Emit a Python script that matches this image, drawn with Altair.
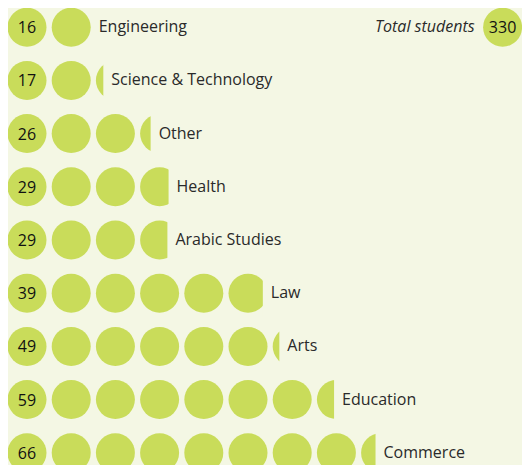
import math
import altair as alt
import pandas as pd

# ---- data ----
categories = ["Engineering", "Science & Technology", "Other", "Health",
              "Arabic Studies", "Law", "Arts", "Education", "Commerce"]
counts = [16, 17, 26, 29, 29, 39, 49, 59, 66]
# length of each row in circles (the first circle holds the number)
circle_units = [2.0, 2.19, 3.27, 3.73, 3.70, 5.88, 6.17, 7.44, 8.37]
total_label = "Total students"
total_value = 330

# ---- styling ----
BG = "#f4f7e4"
GREEN = "#c9dc5a"
TEXT = "#2a2a2a"
FONT = "Open Sans"

W, H = 514, 457
PX_X = 44.2          # px per circle step
PX_Y = 53.2          # px per row
R = 19.5             # circle radius px
x0 = -19.0 / PX_X
x1 = x0 + W / PX_X
y0 = -19.2 / PX_Y
y1 = y0 + H / PX_Y
rx = R / PX_X
TOTAL_POS = 10.76    # circle-step position of the total badge

circ_rows, mask_rows, num_rows, lab_rows = [], [], [], []
for i, (cat, n, c) in enumerate(zip(categories, counts, circle_units)):
    full = int(math.floor(c + 1e-9))
    frac = c - full
    for k in range(full):
        circ_rows.append({"x": k, "row": i})
    if frac > 0.005:
        circ_rows.append({"x": full, "row": i})
        clip = full - rx + frac * 2 * rx
        mask_rows.append({"x": clip, "x2": full + 0.5,
                          "y": i - 0.45, "y2": i + 0.45})
        end = clip
    else:
        end = full - 1 + rx
    num_rows.append({"x": 0, "row": i, "t": str(n)})
    lab_rows.append({"x": end, "row": i, "t": cat})

xs = alt.Scale(domain=[x0, x1], nice=False, zero=False)
ys = alt.Scale(domain=[y0, y1], nice=False, zero=False, reverse=True)

circ_df = pd.DataFrame(circ_rows)
mask_df = pd.DataFrame(mask_rows)
num_df = pd.DataFrame(num_rows)
lab_df = pd.DataFrame(lab_rows)
tot_df = pd.DataFrame([{"x": TOTAL_POS, "row": 0, "t": str(total_value), "l": total_label}])

SIZE = (2 * R) ** 2

circles = alt.Chart(circ_df).mark_circle(size=SIZE, color=GREEN, opacity=1).encode(
    x=alt.X("x:Q", scale=xs, axis=None),
    y=alt.Y("row:Q", scale=ys, axis=None),
)
masks = alt.Chart(mask_df).mark_rect(color=BG).encode(
    x=alt.X("x:Q", scale=xs, axis=None), x2="x2:Q",
    y=alt.Y("y:Q", scale=ys, axis=None), y2="y2:Q",
)
nums = alt.Chart(num_df).mark_text(font=FONT, fontSize=16, color="#111111",
                                   align="center", baseline="middle", dy=1).encode(
    x=alt.X("x:Q", scale=xs, axis=None),
    y=alt.Y("row:Q", scale=ys, axis=None),
    text="t:N",
)
labels = alt.Chart(lab_df).mark_text(font=FONT, fontSize=16, color=TEXT,
                                     align="left", baseline="middle", dx=8).encode(
    x=alt.X("x:Q", scale=xs, axis=None),
    y=alt.Y("row:Q", scale=ys, axis=None),
    text="t:N",
)
tot_circle = alt.Chart(tot_df).mark_circle(size=SIZE, color=GREEN, opacity=1).encode(
    x=alt.X("x:Q", scale=xs, axis=None),
    y=alt.Y("row:Q", scale=ys, axis=None),
)
tot_num = alt.Chart(tot_df).mark_text(font=FONT, fontSize=16, color="#111111",
                                      align="center", baseline="middle", dy=1).encode(
    x=alt.X("x:Q", scale=xs, axis=None),
    y=alt.Y("row:Q", scale=ys, axis=None),
    text="t:N",
)
tot_lab = alt.Chart(tot_df).mark_text(font=FONT, fontSize=16, color=TEXT, fontStyle="italic",
                                      align="right", baseline="middle", dx=-28).encode(
    x=alt.X("x:Q", scale=xs, axis=None),
    y=alt.Y("row:Q", scale=ys, axis=None),
    text="l:N",
)

chart = alt.layer(circles, masks, nums, labels, tot_circle, tot_num, tot_lab).properties(
    width=W, height=H, background=BG, padding=0,
    autosize=alt.AutoSizeParams(type="none"),
).configure_view(stroke=None)

chart.save("out.html", embed_options={"renderer": "svg", "actions": False})
